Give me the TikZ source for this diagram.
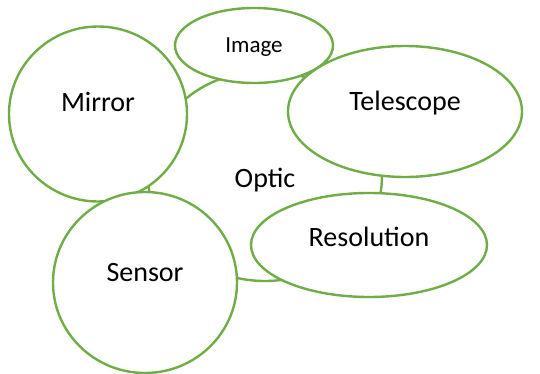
\documentclass[tikz,border=0pt]{standalone}
\usepackage{fontspec}
\setmainfont{Carlito}
\usepackage{tikz}
\usetikzlibrary{shapes.geometric}
\definecolor{leaf}{HTML}{70AD47}

\tikzset{
  bubble/.style={ellipse,draw=leaf,line width=2.4pt,fill=white,inner sep=0pt,
    text height=18pt,font=\fontsize{28}{32}\selectfont}
}

\begin{document}
\begin{tikzpicture}[x=1pt,y=-1pt]
  \useasboundingbox (0,0) rectangle (540,374);
  \node[bubble,minimum width=234pt,minimum height=210pt,text height=22pt,text depth=0pt] (optic) at (265,176) {Optic};
  \node[bubble,minimum width=158pt,minimum height=75pt,text height=15pt,text depth=0pt,font=\fontsize{23}{27}\selectfont] (image) at (254,45.5) {Image};
  \node[bubble,minimum width=178pt,minimum height=175pt,text depth=22pt] (mirror) at (98,114) {Mirror};
  \node[bubble,minimum width=234pt,minimum height=131pt,text depth=20pt] (telescope) at (405,111.5) {Telescope};
  \node[bubble,minimum width=236pt,minimum height=104pt,text depth=15pt] (resolution) at (369,245) {Resolution};
  \node[bubble,minimum width=184pt,minimum height=181pt,text depth=21pt] (sensor) at (145,282.5) {Sensor};
\end{tikzpicture}
\end{document}
